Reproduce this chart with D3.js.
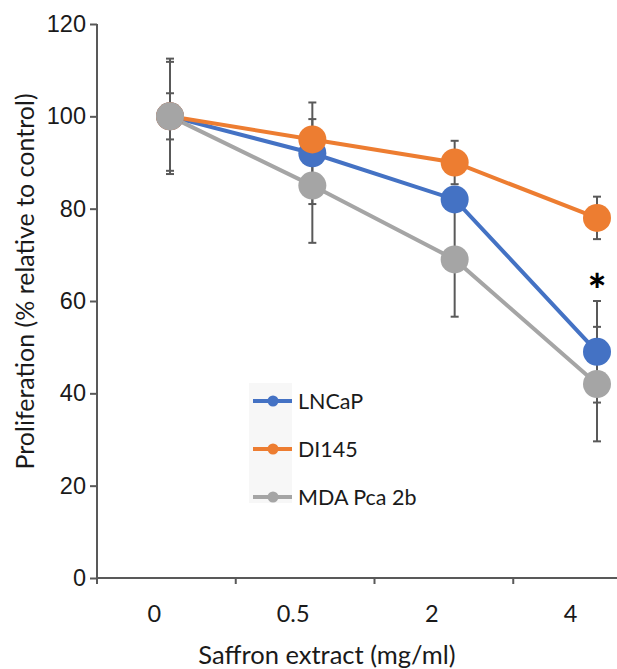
<!DOCTYPE html>
<html>
<head>
<meta charset="utf-8">
<script src="https://cdn.jsdelivr.net/npm/d3@7"></script>
<style>
  body { margin: 0; background: #fff; }
  svg { display: block; font-family: Lato, "Open Sans", sans-serif; }
  .axis path, .axis line { stroke: #595959; stroke-width: 2; }
  .axis text { fill: #1a1a1a; font-size: 23.5px; }
</style>
</head>
<body>
<svg id="chart" width="617" height="669"></svg>
<script>
(function () {
  // data
  const doses = ["0", "0.5", "2", "4"];
  const yTicks = [0, 20, 40, 60, 80, 100, 120];

  const lncapValues = [100, 92, 82, 49];
  const lncapErrors = [11.8, 11, 2.5, 11];
  const du145Values = [100, 95, 90, 78];
  const du145Errors = [5, 4.4, 4.7, 4.6];
  const mdaValues = [100, 85, 69, 42];
  const mdaErrors = [12.5, 12.4, 12.4, 12.4];

  const series = [
    { name: "LNCaP", values: lncapValues, errors: lncapErrors, color: "#4472C4" },
    { name: "DI145", values: du145Values, errors: du145Errors, color: "#ED7D31" },
    { name: "MDA Pca 2b", values: mdaValues, errors: mdaErrors, color: "#A5A5A5" }
  ];

  const AXIS_X = 97;
  const AXIS_Y = 578;
  const RADIUS = 14;

  const svg = d3.select("#chart");

  const y = d3.scaleLinear().domain([0, 120]).range([AXIS_Y, 24]);
  // category bands for the axis ticks, point scale for the markers
  const xBand = d3.scaleBand().domain(doses).range([AXIS_X, 652]);
  const x = d3.scalePoint().domain(doses).range([170, 597]);

  // y axis
  const yAxis = svg.append("g")
    .attr("class", "axis")
    .attr("transform", `translate(${AXIS_X},0)`)
    .call(d3.axisLeft(y).tickValues(yTicks).tickSize(7).tickPadding(4).tickSizeOuter(0));
  yAxis.select(".domain").attr("d", `M0,${y(120)}V${AXIS_Y + 6}`);

  // x axis: ticks sit on the band boundaries
  const xAxis = svg.append("g")
    .attr("class", "axis")
    .attr("transform", `translate(0,${AXIS_Y})`);
  xAxis.append("line")
    .attr("x1", AXIS_X).attr("x2", 617)
    .attr("y1", 0).attr("y2", 0);
  xAxis.selectAll(".tick-mark")
    .data(doses.slice(1))
    .enter()
    .append("line")
    .attr("class", "tick-mark")
    .attr("x1", (d) => xBand(d)).attr("x2", (d) => xBand(d))
    .attr("y1", 0).attr("y2", 6);
  xAxis.selectAll(".tick-label")
    .data(doses)
    .enter()
    .append("text")
    .attr("class", "tick-label")
    .attr("x", (d) => xBand(d) + xBand.bandwidth() / 2 - 12)
    .attr("y", 44)
    .attr("text-anchor", "middle")
    .text((d) => d);

  // axis titles
  svg.append("text")
    .attr("transform", `translate(34,${(88 + 475) / 2}) rotate(-90)`)
    .attr("text-anchor", "middle")
    .attr("font-size", 25)
    .attr("fill", "#1a1a1a")
    .text("Proliferation (% relative to control)");
  svg.append("text")
    .attr("x", 327)
    .attr("y", 664)
    .attr("text-anchor", "middle")
    .attr("font-size", 25.5)
    .attr("fill", "#1a1a1a")
    .text("Saffron extract (mg/ml)");

  const line = d3.line()
    .x((d, i) => x(doses[i]))
    .y((d) => y(d));

  // lines
  svg.append("g").selectAll("path")
    .data(series)
    .enter()
    .append("path")
    .attr("d", (s) => line(s.values))
    .attr("fill", "none")
    .attr("stroke", (s) => s.color)
    .attr("stroke-width", 4);

  // error bars
  const errGroup = svg.append("g")
    .attr("stroke", "#595959")
    .attr("stroke-width", 2);
  series.forEach((s) => {
    s.values.forEach((v, i) => {
      const cx = x(doses[i]);
      const top = y(v + s.errors[i]);
      const bottom = y(v - s.errors[i]);
      errGroup.append("line").attr("x1", cx).attr("x2", cx).attr("y1", top).attr("y2", bottom);
      errGroup.append("line").attr("x1", cx - 4).attr("x2", cx + 4).attr("y1", top).attr("y2", top);
      errGroup.append("line").attr("x1", cx - 4).attr("x2", cx + 4).attr("y1", bottom).attr("y2", bottom);
    });
  });

  // markers
  series.forEach((s) => {
    svg.append("g").selectAll("circle")
      .data(s.values)
      .enter()
      .append("circle")
      .attr("cx", (d, i) => x(doses[i]))
      .attr("cy", (d) => y(d))
      .attr("r", RADIUS)
      .attr("fill", s.color);
  });

  // significance mark
  svg.append("text")
    .attr("x", x("4"))
    .attr("y", 306)
    .attr("text-anchor", "middle")
    .attr("font-size", 44)
    .attr("font-weight", "900")
    .attr("fill", "#000")
    .text("*");

  // legend
  const legend = svg.append("g");
  legend.append("rect")
    .attr("x", 249).attr("y", 383)
    .attr("width", 43).attr("height", 120)
    .attr("fill", "#f7f7f7");
  const rows = legend.selectAll(".row")
    .data(series)
    .enter()
    .append("g")
    .attr("class", "row")
    .attr("transform", (s, i) => `translate(0,${401 + i * 48})`);
  rows.append("line")
    .attr("x1", 253).attr("x2", 292)
    .attr("stroke", (s) => s.color)
    .attr("stroke-width", 4);
  rows.append("circle")
    .attr("cx", 273).attr("r", 5.5)
    .attr("fill", (s) => s.color);
  rows.append("text")
    .attr("x", 298)
    .attr("y", 8)
    .attr("font-size", 21.5)
    .attr("fill", "#1a1a1a")
    .text((s) => s.name);
})();
</script>
</body>
</html>
